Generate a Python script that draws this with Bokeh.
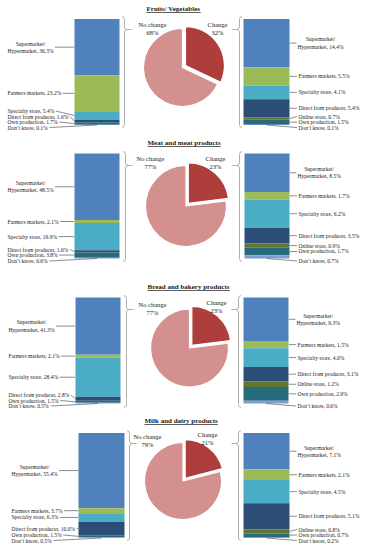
import math
from bokeh.plotting import figure
from bokeh.models import Range1d, ColumnDataSource
from bokeh.core.properties import value
from bokeh.embed import file_html
from bokeh.resources import INLINE

# ---------------- data ----------------
titles = ["Fruits/ Vegetables", "Meat and meat products",
          "Bread and bakery products", "Milk and dairy products"]
pie_labels = ["No change", "Change"]
no_change_pct = [68, 77, 77, 79]
change_pct = [32, 23, 23, 21]

left_categories = ["Supermarket/ Hypermarket", "Farmers markets", "Specialty store",
                   "Direct from producer", "Own production", "Don\u2019t know"]
right_categories = ["Supermarket/ Hypermarket", "Farmers markets", "Specialty store",
                    "Direct from producer", "Online store", "Own production", "Don\u2019t know"]

fruit_nochange = [36.3, 23.2, 5.4, 1.6, 1.7, 0.1]
fruit_change = [14.4, 5.5, 4.1, 5.4, 0.7, 1.5, 0.1]
meat_nochange = [48.5, 2.1, 19.9, 1.6, 3.8, 0.6]
meat_change = [8.5, 1.7, 6.2, 3.5, 0.9, 1.7, 0.7]
bread_nochange = [41.3, 2.1, 28.4, 2.8, 1.5, 0.5]
bread_change = [9.3, 1.5, 4.0, 3.1, 1.2, 2.9, 0.6]
milk_nochange = [55.4, 3.7, 6.3, 10.0, 1.5, 0.5]
milk_change = [7.1, 2.1, 4.5, 5.1, 0.8, 0.7, 0.2]

left_values = [fruit_nochange, meat_nochange, bread_nochange, milk_nochange]
right_values = [fruit_change, meat_change, bread_change, milk_change]

# ---------------- styles ----------------
cat_colors = {
    "Supermarket/ Hypermarket": "#4F81BD",
    "Farmers markets": "#9BBB59",
    "Specialty store": "#4BACC6",
    "Direct from producer": "#2C4D75",
    "Online store": "#5F7530",
    "Own production": "#276A7C",
    "Don\u2019t know": "#7BA0CD",
}
nochange_color = "#D4908F"
change_color = "#AD3E3B"
line_col = "#404040"
brace_col = "#A6A6A6"
text_col = "#1A1A1A"
FONT = value("Liberation Serif")

S = 1.0                # screen px per reference px
LBL = 5.5              # label font (reference px)
PIE_F = 6.5
TITLE_F = 7.0

# ---------------- layout (reference pixel space) ----------------
layout = [
    dict(top=18.5, bot=124.5, lx=(74, 119), rx=(243, 289), pie=(182, 67), r=39,
         title=(146, 8), nc=(152, 28), ch=(217, 28), btop=16, bbot=127, tip=29, lbr=121.5, rbr=241.5),
    dict(top=153, bot=258, lx=(74, 119), rx=(244, 289), pie=(185.5, 205.5), r=40.5,
         title=(147, 142), nc=(150, 161.5), ch=(215, 161.5), btop=151, bbot=261, tip=165, lbr=122.5, rbr=241.5),
    dict(top=297, bot=403, lx=(75, 120), rx=(243, 288), pie=(189, 347.5), r=39,
         title=(147, 286), nc=(152, 308), ch=(216, 306), btop=295, bbot=407, tip=309, lbr=123.5, rbr=240.5),
    dict(top=432.5, bot=537.5, lx=(78, 124), rx=(243, 289), pie=(182.5, 480.5), r=38.5,
         title=(144, 420), nc=(147, 440), ch=(207, 438), btop=430, bbot=540, tip=443, lbr=126.5, rbr=240.5),
]

# approximate Times metrics for placing leader lines / underline
_reg = {' ': 250, ',': 250, '.': 250, '%': 833, '/': 278, '\u2019': 333, "'": 180,
        'a': 444, 'b': 500, 'c': 444, 'd': 500, 'e': 444, 'f': 333, 'g': 500, 'h': 500,
        'i': 278, 'j': 278, 'k': 500, 'l': 278, 'm': 778, 'n': 500, 'o': 500, 'p': 500,
        'q': 500, 'r': 333, 's': 389, 't': 278, 'u': 500, 'v': 500, 'w': 722, 'x': 500,
        'y': 500, 'z': 444, 'C': 667, 'D': 722, 'F': 556, 'H': 722, 'M': 889, 'N': 722,
        'O': 722, 'S': 556, 'B': 667, 'V': 722}
_bold = {' ': 250, '/': 278, 'a': 500, 'b': 556, 'c': 444, 'd': 556, 'e': 444, 'f': 333,
         'g': 500, 'h': 556, 'i': 278, 'k': 556, 'l': 278, 'm': 833, 'n': 556, 'o': 500,
         'p': 556, 'r': 444, 's': 389, 't': 333, 'u': 556, 'v': 500, 'w': 722, 'y': 500,
         'F': 611, 'M': 944, 'B': 667, 'V': 722}


def tw(s, size, bold=False):
    tab = _bold if bold else _reg
    return sum(tab.get(c, 500) for c in s) / 1000.0 * size


def label_ys(mids, bottom, gap=5.5):
    n = len(mids)
    ys = list(mids)
    ys[-1] = bottom + 2.5
    for i in range(n - 2, 0, -1):
        ys[i] = min(mids[i], ys[i + 1] - gap)
    return ys


p = figure(width=366, height=550, x_range=Range1d(0, 366), y_range=Range1d(550, 0),
           output_backend="svg", toolbar_location=None, min_border=0,
           x_axis_type=None, y_axis_type=None)
p.grid.visible = False
p.outline_line_color = None
p.background_fill_color = "white"
p.border_fill_color = "white"

quads = dict(left=[], right=[], top=[], bottom=[], color=[])
txt = dict(x=[], y=[], text=[], align=[])
lead_xs, lead_ys = [], []
brace_xs, brace_ys = [], []

for k, L in enumerate(layout):
    for side in ("L", "R"):
        cats = left_categories if side == "L" else right_categories
        vals = left_values[k] if side == "L" else right_values[k]
        x0, x1 = L["lx"] if side == "L" else L["rx"]
        top, bot = L["top"], L["bot"]
        total = sum(vals)
        cum = top
        mids = []
        for c, v in zip(cats, vals):
            t = cum
            b = cum + v / total * (bot - top)
            cum = b
            quads["left"].append(x0); quads["right"].append(x1)
            quads["top"].append(t); quads["bottom"].append(b)
            quads["color"].append(cat_colors[c])
            mids.append((t + b) / 2)
        ys = label_ys(mids, bot)
        for i, (c, v) in enumerate(zip(cats, vals)):
            y = ys[i]
            if i == 0:
                l1 = "Supermarket/"
                l2 = f"Hypermarket, {v}%"
                w = max(tw(l1, LBL), tw(l2, LBL))
                if side == "L":
                    cx = x0 - 67 + w / 2
                    sx_, ex_ = cx + w / 2 + 1.5, x0 - 0.3
                    lead_xs.append([sx_, ex_]); lead_ys.append([y, mids[i]])
                else:
                    cx = x1 + 8 + w / 2
                    lead_xs.append([x1 + 0.3, x1 + 7]); lead_ys.append([mids[i], y])
                for dy, s in ((-3.6, l1), (3.6, l2)):
                    txt["x"].append(cx); txt["y"].append(y + dy)
                    txt["text"].append(s); txt["align"].append("center")
            else:
                s = f"{c}, {v}%"
                w = tw(s, LBL)
                last = (i == len(cats) - 1)
                if side == "L":
                    tx = x0 - 67
                    txt["x"].append(tx); txt["y"].append(y)
                    txt["text"].append(s); txt["align"].append("left")
                    if last:
                        lead_xs.append([tx + w + 1.5, (x0 + x1) / 2]); lead_ys.append([y, bot])
                    else:
                        lead_xs.append([tx + w + 1.5, x0 - 0.3]); lead_ys.append([y, mids[i]])
                else:
                    tx = x1 + 9
                    txt["x"].append(tx); txt["y"].append(y)
                    txt["text"].append(s); txt["align"].append("left")
                    if last:
                        lead_xs.append([(x0 + x1) / 2, tx - 1.5]); lead_ys.append([bot, y])
                    else:
                        lead_xs.append([x1 + 0.3, tx - 1.5]); lead_ys.append([mids[i], y])

    # braces
    t, b, tip = L["btop"], L["bbot"], L["tip"]
    a = L["lbr"]
    brace_xs.append([a, a + 2, a + 2.5, a + 2.5, a + 3, a + 5, a + 3, a + 2.5, a + 2.5, a + 2, a])
    brace_ys.append([t, t + 1, t + 3, tip - 2.5, tip - 1, tip, tip + 1, tip + 2.5, b - 3, b - 1, b])
    brace_xs.append([a + 5, a + 9.5]); brace_ys.append([tip, tip])
    a = L["rbr"]
    brace_xs.append([a, a - 2, a - 2.5, a - 2.5, a - 3, a - 5, a - 3, a - 2.5, a - 2.5, a - 2, a])
    brace_ys.append([t, t + 1, t + 3, tip - 2.5, tip - 1, tip, tip + 1, tip + 2.5, b - 3, b - 1, b])
    brace_xs.append([a - 5, a - 9.5]); brace_ys.append([tip, tip])

p.quad(left="left", right="right", top="top", bottom="bottom", color="color",
       line_color=None, source=ColumnDataSource(quads))
p.multi_line(xs=brace_xs, ys=brace_ys, line_color=brace_col, line_width=0.9)
p.multi_line(xs=lead_xs, ys=lead_ys, line_color=line_col, line_width=0.6)

for al in ("left", "center"):
    idx = [i for i, a in enumerate(txt["align"]) if a == al]
    src = ColumnDataSource(dict(x=[txt["x"][i] for i in idx], y=[txt["y"][i] for i in idx],
                                text=[txt["text"][i] for i in idx]))
    p.text(x="x", y="y", text="text", source=src, text_font=FONT,
           text_font_size=f"{LBL * S:.2f}px", text_align=al, text_baseline="middle",
           text_color=text_col)

# pies
for k, L in enumerate(layout):
    cx, cy = L["pie"]
    r = L["r"] * S
    ch_frac = change_pct[k] / 100.0
    start = math.pi / 2 - 2 * math.pi * ch_frac
    end = math.pi / 2
    p.wedge(x=[cx], y=[cy], radius=r, radius_units="screen",
            start_angle=end, end_angle=start + 2 * math.pi,
            fill_color=nochange_color, line_color="white", line_width=1.2)
    bis = (start + end) / 2
    off = 3.5
    p.wedge(x=[cx + off * math.cos(bis)], y=[cy - off * math.sin(bis)], radius=r,
            radius_units="screen", start_angle=start, end_angle=end,
            fill_color=change_color, line_color="white", line_width=1.2)
    for (px_, py_), lab, pct in ((L["nc"], pie_labels[0], no_change_pct[k]),
                                 (L["ch"], pie_labels[1], change_pct[k])):
        p.text(x=[px_, px_], y=[py_ - 4, py_ + 4], text=[lab, f"{pct}%"], text_font=FONT,
               text_font_size=f"{PIE_F * S:.2f}px", text_align="center",
               text_baseline="middle", text_color=text_col)
    tx, ty = L["title"]
    p.text(x=[tx], y=[ty], text=[titles[k]], text_font=FONT, text_font_style="bold",
           text_font_size=f"{TITLE_F * S:.2f}px", text_align="left",
           text_baseline="middle", text_color=text_col)
    w = tw(titles[k], TITLE_F, bold=True)
    p.line(x=[tx, tx + w], y=[ty + 4, ty + 4], line_color=text_col, line_width=0.7)

open("out.html", "w").write(file_html(p, INLINE))
